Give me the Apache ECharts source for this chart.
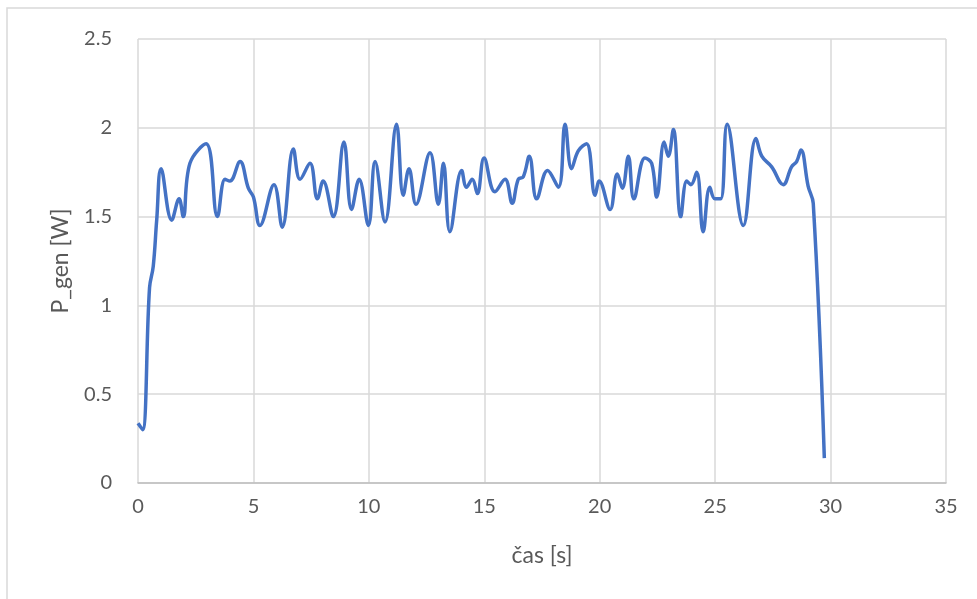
<!DOCTYPE html>
<html>
<head>
<meta charset="utf-8">
<title>P_gen</title>
<script src="https://cdn.jsdelivr.net/npm/echarts@6/dist/echarts.min.js"></script>
<style>
  html, body { margin: 0; padding: 0; background: #fff; }
  #chart { width: 977px; height: 599px; }
</style>
</head>
<body>
<div id="chart"></div>
<script>
// čas [s]
var casS = [0, 0.2, 0.5, 0.66, 0.81, 1.0, 1.46, 1.78, 1.96, 2.25, 2.95, 3.44, 3.77, 3.98, 4.42, 4.78, 5.0, 5.28, 5.89, 6.25,
  6.73, 7.02, 7.45, 7.77, 8.02, 8.46, 8.92, 9.25, 9.58, 9.98, 10.27, 10.7, 11.2, 11.49, 11.74, 12.04, 12.65, 13.01, 13.23, 13.51,
  14.02, 14.23, 14.48, 14.7, 14.99, 15.46, 15.9, 16.21, 16.47, 16.69, 16.95, 17.27, 17.74, 18.21, 18.5, 18.78, 19.07, 19.43, 19.8, 19.98,
  20.45, 20.76, 20.98, 21.24, 21.48, 21.96, 22.25, 22.47, 22.79, 22.97, 23.19, 23.51, 23.77, 23.95, 24.2, 24.48, 24.77, 24.99, 25.24, 25.52,
  26.22, 26.77, 27.02, 27.45, 27.95, 28.31, 28.53, 28.72, 29.03, 29.25, 29.73];
// P_gen [W]
var pGen = [0.336, 0.30, 1.10, 1.22, 1.48, 1.77, 1.48, 1.60, 1.50, 1.80, 1.91, 1.50, 1.71, 1.70, 1.81, 1.66, 1.61, 1.45, 1.68, 1.44,
  1.88, 1.71, 1.80, 1.60, 1.70, 1.50, 1.92, 1.54, 1.71, 1.45, 1.81, 1.47, 2.02, 1.62, 1.77, 1.57, 1.86, 1.57, 1.80, 1.415,
  1.76, 1.665, 1.71, 1.63, 1.83, 1.64, 1.71, 1.575, 1.71, 1.725, 1.84, 1.60, 1.76, 1.665, 2.02, 1.77, 1.87, 1.91, 1.62, 1.70,
  1.54, 1.74, 1.66, 1.84, 1.60, 1.83, 1.80, 1.61, 1.92, 1.84, 1.99, 1.50, 1.70, 1.68, 1.75, 1.415, 1.665, 1.60, 1.60, 2.02,
  1.45, 1.94, 1.84, 1.78, 1.68, 1.78, 1.81, 1.875, 1.67, 1.575, 0.14];

var points = casS.map(function (t, i) { return [t, pGen[i]]; });

var chart = echarts.init(document.getElementById('chart'));
var fontFam = 'Lato, "Noto Sans", sans-serif';
var labelFont = { color: '#595959', fontSize: 20, fontFamily: fontFam };
var titleFont = { color: '#595959', fontSize: 23, fontFamily: fontFam };

chart.setOption({
  backgroundColor: '#fff',
  animation: false,
  graphic: [{
    // rámeček grafu (vidět jen levá a horní hrana)
    type: 'rect',
    shape: { x: 7, y: 8, width: 1000, height: 700 },
    style: { fill: 'none', stroke: '#d9d9d9', lineWidth: 1.5 },
    silent: true
  }],
  grid: { left: 138, right: 31, top: 39, bottom: 116 },
  xAxis: {
    type: 'value',
    min: 0, max: 35, interval: 5,
    name: 'čas [s]',
    nameLocation: 'middle',
    nameGap: 61,
    nameTextStyle: titleFont,
    axisLine: { show: true, lineStyle: { color: '#bfbfbf', width: 1.5 } },
    axisTick: { show: false },
    axisLabel: Object.assign({ margin: 14 }, labelFont),
    splitLine: { show: true, lineStyle: { color: '#d9d9d9', width: 1.5 } }
  },
  yAxis: {
    type: 'value',
    min: 0, max: 2.5, interval: 0.5,
    name: 'P_gen [W]',
    nameLocation: 'middle',
    nameGap: 66,
    nameTextStyle: titleFont,
    axisLine: { show: false },
    axisTick: { show: false },
    axisLabel: Object.assign({ margin: 26 }, labelFont),
    splitLine: { show: true, lineStyle: { color: '#d9d9d9', width: 1.5 } }
  },
  series: [{
    type: 'line',
    data: points,
    smooth: 0.4,
    showSymbol: false,
    lineStyle: { color: '#4472C4', width: 3.5 },
    itemStyle: { color: '#4472C4' }
  }]
});
</script>
</body>
</html>
